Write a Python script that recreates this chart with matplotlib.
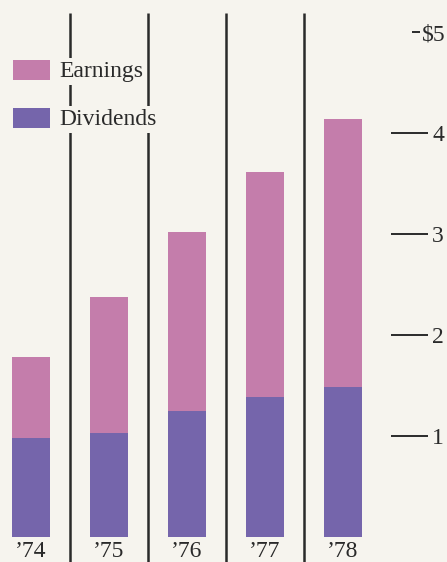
import numpy as np
import matplotlib
matplotlib.use('Agg')
import matplotlib.pyplot as plt
from matplotlib.patches import Rectangle
from matplotlib.transforms import ScaledTranslation


years = ['\u201974', '\u201975', '\u201976', '\u201977', '\u201978']
earnings = [1.78, 2.38, 3.02, 3.61, 4.14]
dividends = [0.98, 1.03, 1.25, 1.39, 1.49]
yticks = [1, 2, 3, 4, 5]
ytick_labels = ['1', '2', '3', '4', '$5']
series_names = ['Earnings', 'Dividends']

bg = '#f6f4ee'
pink = '#c47dab'
purple = '#7565ab'
ink = '#2a2a2a'

plt.rcParams['font.family'] = ['Liberation Serif', 'DejaVu Serif']

W, H = 447, 562
fig = plt.figure(figsize=(W / 100, H / 100), dpi=100, facecolor=bg)
ax = fig.add_axes([0, 25 / H, 428 / W, 537 / H])
ax.set_facecolor(bg)

x = np.arange(len(years))
ax.bar(x, earnings, width=0.49, color=pink, zorder=2)
ax.bar(x, dividends, width=0.49, color=purple, zorder=3)

# separators between years
ax.vlines(x[:-1] + 0.5, -0.25, 5.19, color=ink, lw=1.8, clip_on=False, zorder=1)

ax.set_xlim(-0.397, 5.09)
ax.set_ylim(0, 5.317)

for s in ax.spines.values():
    s.set_visible(False)

ax.set_xticks(x, years, fontsize=17)
ax.tick_params(axis='x', length=0, pad=3, colors=ink)

ax.yaxis.tick_right()
ax.set_yticks(yticks, ytick_labels, fontsize=17)
ax.tick_params(axis='y', direction='in', length=27, width=1.4, pad=3, colors=ink)

# the $5 tick is shorter and sits a little further left
last = ax.yaxis.get_major_ticks()[-1]
last.tick2line.set_markersize(6)
last.tick2line.set_transform(last.tick2line.get_transform()
                             + ScaledTranslation(-0.08, 0, fig.dpi_scale_trans))
last.label2.set_transform(last.label2.get_transform()
                          + ScaledTranslation(-0.10, 0, fig.dpi_scale_trans))

# legend drawn by hand so the labels can blank out the separator lines
for i, (name, c) in enumerate(zip(series_names, [pink, purple])):
    top = 60 + 48 * i
    fig.add_artist(Rectangle((13 / W, 1 - (top + 20) / H), 37 / W, 20 / H,
                             transform=fig.transFigure, facecolor=c, edgecolor='none'))
    fig.text(59 / W, 1 - (top + 17) / H, name, fontsize=17, color=ink, va='baseline',
             bbox=dict(boxstyle='square,pad=0.12', facecolor=bg, edgecolor='none'))

fig.savefig('out.png', dpi=100, facecolor=bg)
